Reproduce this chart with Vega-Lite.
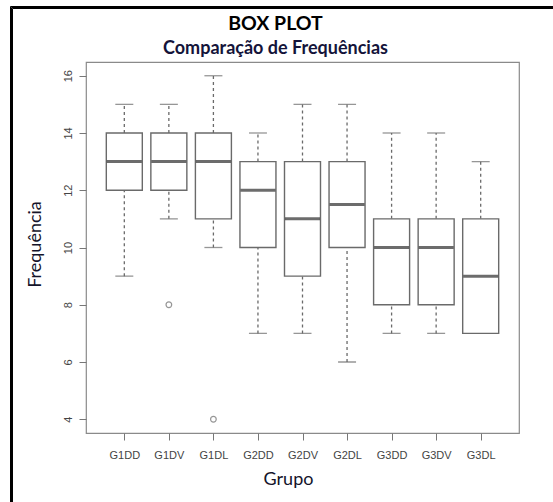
{
  "$schema": "https://vega.github.io/schema/vega-lite/v6.json",
  "width": 433,
  "height": 371,
  "autosize": "none",
  "padding": {"left": 86, "top": 62, "right": 34, "bottom": 69},
  "background": "white",
  "title": {
    "text": "BOX PLOT",
    "subtitle": "Comparação de Frequências",
    "anchor": "middle",
    "dx": -27,
    "dy": 57.5,
    "offset": 4,
    "font": "Lato",
    "fontSize": 19.5,
    "fontWeight": "bold",
    "color": "#000000",
    "subtitleFont": "Lato",
    "subtitleFontSize": 18,
    "subtitleFontWeight": "bold",
    "subtitleColor": "#14143a",
    "subtitlePadding": 6
  },
  "config": {
    "view": {"stroke": "#8a8a8a", "strokeWidth": 1.2},
    "axis": {
      "domain": false,
      "grid": false,
      "ticks": true,
      "tickColor": "#777777",
      "tickSize": 7,
      "labelFont": "Liberation Sans",
      "labelFontSize": 11,
      "labelColor": "#444444",
      "titleFont": "Lato",
      "titleFontSize": 18,
      "titleFontWeight": "normal",
      "titleColor": "#14142a"
    },
    "legend": {
      "orient": "none",
      "padding": 320,
      "strokeColor": "#000000",
      "fillColor": "transparent",
      "title": null,
      "symbolOpacity": 0,
      "labelOpacity": 0,
      "labelExpr": "''"
    }
  },
  "datasets": {
    "stats": [
      {"grupo": "G1DD", "lower": 9, "q1": 12, "median": 13, "q3": 14, "upper": 15},
      {"grupo": "G1DV", "lower": 11, "q1": 12, "median": 13, "q3": 14, "upper": 15},
      {"grupo": "G1DL", "lower": 10, "q1": 11, "median": 13, "q3": 14, "upper": 16},
      {"grupo": "G2DD", "lower": 7, "q1": 10, "median": 12, "q3": 13, "upper": 14},
      {"grupo": "G2DV", "lower": 7, "q1": 9, "median": 11, "q3": 13, "upper": 15},
      {"grupo": "G2DL", "lower": 6, "q1": 10, "median": 11.5, "q3": 13, "upper": 15},
      {"grupo": "G3DD", "lower": 7, "q1": 8, "median": 10, "q3": 11, "upper": 14},
      {"grupo": "G3DV", "lower": 7, "q1": 8, "median": 10, "q3": 11, "upper": 14},
      {"grupo": "G3DL", "lower": 7, "q1": 7, "median": 9, "q3": 11, "upper": 13}
    ],
    "outliers": [
      {"grupo": "G1DV", "valor": 8},
      {"grupo": "G1DL", "valor": 4}
    ]
  },
  "encoding": {
    "x": {
      "field": "grupo",
      "type": "nominal",
      "sort": ["G1DD", "G1DV", "G1DL", "G2DD", "G2DV", "G2DL", "G3DD", "G3DV", "G3DL"],
      "scale": {"type": "point", "padding": 0.86},
      "axis": {
        "title": "Grupo",
        "labelAngle": 0,
        "labelPadding": 9,
        "titleX": 202,
        "titleY": 51,
        "titleAlign": "center",
        "titleBaseline": "alphabetic"
      }
    }
  },
  "layer": [
    {
      "data": {"name": "stats"},
      "mark": {"type": "rule", "color": "#6a6a6a", "strokeWidth": 1.3, "strokeDash": [3, 3]},
      "encoding": {
        "y": {
          "field": "lower",
          "type": "quantitative",
          "scale": {"domain": [3.52, 16.48], "nice": false, "zero": false},
          "axis": {
            "title": "Frequência",
            "values": [4, 6, 8, 10, 12, 14, 16],
            "labelAngle": 270,
            "labelAlign": "center",
            "labelBaseline": "bottom",
            "labelPadding": 6,
            "titleAngle": 270,
            "titleX": -51,
            "titleY": 182,
            "titleAlign": "center",
            "titleBaseline": "middle"
          }
        },
        "y2": {"field": "q1"}
      }
    },
    {
      "data": {"name": "stats"},
      "mark": {"type": "rule", "color": "#6a6a6a", "strokeWidth": 1.3},
      "encoding": {
        "y": {"field": "q3", "type": "quantitative"},
        "y2": {"field": "upper"},
        "strokeDash": {
          "field": "upper",
          "type": "ordinal",
          "scale": {"range": [[3, 3]]},
          "legend": {"legendX": -74, "legendY": -54}
        }
      }
    },
    {
      "data": {"name": "stats"},
      "mark": {"type": "tick", "color": "#6a6a6a", "size": 18, "thickness": 1.3},
      "encoding": {"y": {"field": "lower", "type": "quantitative"}}
    },
    {
      "data": {"name": "stats"},
      "mark": {"type": "tick", "color": "#6a6a6a", "size": 18, "thickness": 1.3},
      "encoding": {"y": {"field": "upper", "type": "quantitative"}}
    },
    {
      "data": {"name": "stats"},
      "mark": {"type": "bar", "width": 36, "stroke": "#6a6a6a", "strokeWidth": 1.4},
      "encoding": {
        "y": {"field": "q1", "type": "quantitative"},
        "y2": {"field": "q3"},
        "fill": {
          "field": "grupo",
          "type": "nominal",
          "scale": {"range": ["#ffffff"]},
          "legend": {"legendX": -75, "legendY": -55}
        }
      }
    },
    {
      "data": {"name": "stats"},
      "mark": {"type": "tick", "color": "#2e2e2e", "size": 35, "thickness": 3},
      "encoding": {"y": {"field": "median", "type": "quantitative"}}
    },
    {
      "data": {"name": "outliers"},
      "mark": {"type": "point", "filled": false, "stroke": "#6a6a6a", "strokeWidth": 1.2, "size": 32},
      "encoding": {
        "y": {"field": "valor", "type": "quantitative"},
        "shape": {
          "field": "grupo",
          "type": "nominal",
          "scale": {"range": ["circle"]},
          "legend": {"legendX": -76, "legendY": -56}
        }
      }
    }
  ]
}
